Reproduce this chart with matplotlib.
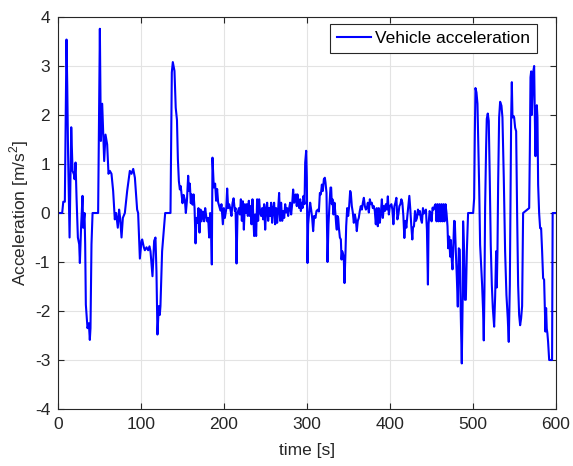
import matplotlib
matplotlib.use("Agg")
import matplotlib.pyplot as plt
import numpy as np

# acceleration trace, split in three phases
# start: launch / stop cycles (0-145 s)
t_start = [0, 5.2, 6.5, 8.4, 10.4, 11.3, 12.3, 14.1, 16.1, 17.7, 19.3, 20.1, 21.3, 22.5,
           24.1, 25.7, 26.5, 28.1, 29.7, 30.5, 32.1, 32.9, 33.7, 35.7, 37.3, 38.5, 39.3,
           40.5, 41.8, 48.5, 50.6, 51.8, 53.4, 55.8, 57.4, 59.4, 61, 62.6, 64.6, 66.6,
           68.6, 70.2, 72.2, 73.8, 75, 76.7, 78.3, 80.7, 83.5, 86.7, 88.7, 90.8, 92.8,
           95.5, 96.7, 98.8, 100.8, 101.6, 103.6, 104.8, 106.8, 108.8, 110.4, 111.6, 114,
           116, 117.6, 118.8, 120, 121.6, 122.8, 123.6, 125.6, 126.9, 129.3, 135.7, 137.3,
           138.5, 140.5, 142, 143.5, 144.6]
a_start = [0, 0, 0.23, 0.23, 3.54, 2.6, 1.2, -0.5, 1.75, 0.86, 0.79, 0.69, 1.03, 0.31,
           -0.5, -0.64, -1.02, -0.23, 0.35, -0.3, 0, -0.64, -1.87, -2.35, -2.25, -2.59, -2.35,
           -0.64, 0, 0, 3.76, 1.47, 2.23, 1.06, 1.6, 1.4, 0.8, 0.86, 0.8, 0.45,
           -0.13, 0, -0.3, 0.07, -0.1, -0.5, -0.1, 0, 0.45, 0.86, 0.8, 0.9, 0.72,
           0.07, 0, -0.93, -0.57, -0.54, -0.7, -0.76, -0.7, -0.76, -0.68, -0.78, -1.29,
           -0.57, -0.5, -1.2, -2.48, -1.9, -2.08, -1.9, -0.78, -0.5, 0, 0, 2.87,
           3.08, 2.9, 2.15, 1.9, 1.1]

# middle: cruising with noise (145-478 s)
t_mid = [145.8, 147, 148, 150.2, 151.5, 153, 154.2, 155.5, 157, 158, 159, 160.2, 161, 162.3,
         163.5, 164.7, 165.9, 167, 168.2, 169.4, 170.7, 171.9, 173.1, 174.7, 176.3, 177.5,
         178.7, 179.9, 181.1, 182.3, 183.5, 184.3, 185.5, 186.3, 187.9, 189.5, 190.7, 191.9,
         193.1, 194.3, 195.9, 197.1, 198.8, 200, 201.2, 202.8, 204, 205.2, 206.4, 207.6,
         209.2, 210.4, 211.7, 213.3, 214.1, 215.3, 216.5, 218.1, 219.3, 220.5, 221.7, 222.9,
         224.1, 225.3, 226.5, 227.7, 228.9, 230.1, 231.3, 232.5, 233.3, 234.5, 235.3, 236.5,
         237.7, 238.9, 240.1, 241.3, 242.5, 243.7, 244.9, 246.1, 247.3, 248.5, 249.8, 251,
         252.2, 253.4, 254.6, 255.8, 257, 258.2, 259.4, 260.6, 261.8, 263, 264.2, 265.4,
         266.6, 267.8, 269, 270.3, 271.5, 272.7, 273.9, 275.1, 276.3, 277.5, 278.7, 279.9,
         281.1, 282.3, 283.5, 284.7, 285.5, 286.7, 287.9, 288.7, 289.5, 290.8, 292, 292.8,
         293.6, 294.8, 296, 297.2, 298, 299.2, 300, 300.8, 301.6, 302.8, 304, 305.2, 306.4,
         307.6, 308.8, 310.4, 311.6, 313.3, 314.5, 315.7, 316.9, 318.1, 319.3, 320.5, 321.7,
         322.5, 323.7, 324.9, 326.1, 327.3, 328.5, 329.3, 330.1, 330.9, 332.1, 333.3, 334.5,
         335.3, 336.1, 336.9, 337.8, 338.6, 339.8, 341, 341.8, 342.6, 343.8, 344.6, 345.4,
         346.6, 347.4, 348.6, 349.8, 351, 352.2, 353, 354.2, 355.4, 356.6, 357.8, 359,
         360.2, 361.4, 362.6, 363.8, 365, 366.3, 367.5, 368.7, 369.9, 371.1, 372.3, 373.5,
         374.7, 375.9, 377.1, 378.3, 379.5, 380.7, 381.9, 383.1, 384.3, 385.5, 386.7, 387.9,
         389.2, 390.4, 391.6, 392.8, 394, 395.2, 396.4, 397.6, 398.8, 400, 401.9, 403.1,
         404.3, 405.5, 406.7, 407.9, 409.1, 410.3, 411.5, 412.7, 413.9, 415.1, 416.3, 417.5,
         418.7, 419.9, 421.1, 422.3, 423.5, 424.7, 425.9, 427.1, 427.9, 429.1, 430.3, 431.5,
         432.7, 433.9, 435.1, 436.3, 437.5, 438.7, 439.9, 441.1, 442.3, 443.5, 444.7, 445.9,
         446.7, 447.9, 449.1, 450.3, 451.5, 452.7, 453.9, 455.1, 456.3, 457.5, 458.7, 459.9,
         461.1, 462.3, 463.5, 464.7, 465.9, 467.1, 468.3, 469.5, 470.3, 471.5, 472.7, 473.5,
         474.7, 475.5, 476.3, 477.5]
a_mid = [0.65, 0.48, 0.55, 0.2, 0.37, 0.27, 0, 0.25, 0.76, 0.45, 0.6, 0.2, 0.38, 0.17,
         0.38, 0.1, -0.62, -0.1, -0.2, 0.1, -0.4, 0.07, -0.17, 0.03, -0.17, 0.1,
         -0.06, -0.17, -0.1, -0.5, 0, -0.13, -1.05, 1.13, 0.52, 0.6, 0.25, 0.49,
         0.22, 0.15, 0.05, 0.18, -0.23, 0.1, -0.1, 0.07, 0.5, 0.1, 0.18, 0.1,
         -0.06, 0.2, 0.3, 0.04, 0.1, -1.03, 0, 0.1, -0.03, 0.28, -0.16, 0.24,
         -0.34, 0.18, 0, 0.18, -0.06, 0.25, -0.06, 0.14, -0.23, 0.28, 0.01, -0.47,
         -0.03, -0.47, 0.28, -0.16, 0.28, 0.01, -0.06, 0.1, -0.13, 0.18, -0.34, 0.1,
         0.21, -0.16, 0.1, -0.06, 0.21, -0.2, 0.1, 0.21, -0.23, 0.1, -0.2, 0.07,
         0.41, -0.16, 0.21, -0.16, 0.04, -0.1, 0.18, 0.01, 0.1, -0.06, 0.1, 0.21,
         -0.03, 0.18, 0.48, 0.21, 0.31, 0.38, 0.14, 0.38, 0.28, 0.1, 0.28, 0.04,
         0.21, 0.1, 0.35, 0.18, 1.03, 1.27, 0.72, -1.02, -0.23, 0.01, 0.21, 0.07, -0.1,
         -0.37, -0.06, -0.1, 0.04, 0.07, 0.03, 0.41, 0.38, 0.58, 0.45, 0.69, 0.72,
         0.62, 0.41, -1.0, -0.23, 0.18, 0.52, 0.52, 0.18, 0.28, -0.03, 0.21, -0.03,
         -0.23, -0.34, -0.06, -0.1, -0.3, -0.5, -0.54, -0.95, -0.78, -0.85, -0.98, -1.43,
         -0.78, -0.27, 0.1, -0.06, 0.14, 0.45, 0.41, 0.14, 0.01, -0.2, -0.03, -0.13,
         -0.37, -0.16, -0.1, 0.04, 0.14, 0.07, 0.21, 0.31, 0.14, 0.07, 0.1, 0.21,
         0.01, 0.28, 0.18, 0.21, 0.1, 0.14, 0.04, -0.23, 0.1, -0.27, 0.1, -0.2,
         0, 0.28, -0.1, 0.14, 0.04, 0.18, 0.07, 0.34, -0.03, 0.14, 0.18, 0.07,
         -0.23, 0.14, 0.21, 0.31, -0.13, -0.03, 0.14, 0.18, 0.28, 0.21, -0.06, -0.51,
         -0.16, -0.3, -0.06, 0.14, 0.35, 0.07, -0.27, -0.54, -0.3, -0.27, 0.04, -0.16,
         -0.1, 0.07, -0.03, 0.04, -0.13, -0.2, 0.1, -0.01, 0.03, 0.07, -0.34, -1.46,
         -0.23, 0.04, 0, -0.17, 0.11, 0.07, 0.14, 0.18, -0.17, 0.18, -0.17, 0.18,
         -0.17, 0.18, -0.17, 0.18, -0.17, 0.18, 0, -0.27, -0.72, -0.48, -0.89, -0.55,
         -0.98, -1.15, -0.78, -0.16]

# end: aggressive stop-and-go (478-600 s)
t_end = [478.3, 479.5, 480.7, 481.9, 483.1, 484.3, 485.5, 486.7, 487.9, 488.3, 489.5, 490.4,
         491.6, 492.8, 494.3, 500.4, 501.6, 502.4, 503.2, 504.4, 505.6, 506.4, 507.6, 508.8,
         510, 511.2, 512.4, 513.2, 514, 514.8, 516, 516.8, 518, 519.2, 520.4, 521.6,
         522.9, 524.1, 525.7, 526.9, 528.1, 528.9, 529.7, 530.5, 531.7, 532.9, 534.5, 535.7,
         537.3, 538.9, 540.5, 542.1, 543.3, 544.6, 545.4, 546.2, 547, 547.8, 549, 549.8,
         551, 552.2, 553.4, 554.6, 555.8, 557, 558.2, 559.4, 560.6, 567.9, 568.7, 569.5,
         570.3, 571.1, 571.9, 572.7, 573.9, 574.7, 575.5, 576.3, 577.1, 577.9, 578.7, 579.9,
         581.1, 582.3, 583.5, 584.7, 585.9, 586.7, 587.5, 588.3, 589.1, 589.9, 590.7, 592,
         595.5, 596.2, 600]
a_end = [-0.17, -0.78, -1.3, -1.91, -0.72, -0.75, -2.1, -3.07, -1.6, -0.17, -0.78, -1.77,
         -1.77, -0.78, 0, 0, 0.3, 1.6, 2.55, 2.46, 2.23, 1.6, 0.58, -0.65,
         -1.06, -1.47, -2.01, -2.6, -1.6, 0.1, 1.33, 1.92, 2.03, 1.88, 0.72, -0.65,
         -1.47, -1.94, -2.32, -1.7, -0.78, -1.52, -0.78, 0.58, 1.95, 2.27, 2.19, 1.95,
         0.72, -0.78, -1.67, -2.15, -2.63, -1.47, 0.24, 1.95, 2.67, 1.95, 1.98, 1.95,
         1.74, 1.67, -0.03, -1.47, -2.08, -2.29, -2.15, -1.9, 0, 0.1, 1.27, 2.77,
         2.89, 2.0, 2.41, 2.87, 3.0, 1.98, 1.16, 1.95, 2.2, 1.95, 0.58, 0,
         -0.31, -0.31, -0.78, -1.33, -1.36, -1.91, -2.42, -1.94, -2.36, -2.46, -2.63, -3.0,
         -3.0, 0, 0]

time = np.array(t_start + t_mid + t_end)
accel = np.array(a_start + a_mid + a_end)

plt.rcParams["font.family"] = ["Liberation Sans", "DejaVu Sans"]
plt.rcParams["mathtext.fontset"] = "custom"
plt.rcParams["mathtext.rm"] = "Liberation Sans"
plt.rcParams["axes.unicode_minus"] = False

dark = "#262626"
fs = 12.5
fig = plt.figure(figsize=(5.73, 4.66), dpi=100)
ax = fig.add_axes([0.101, 0.1223, 0.869, 0.8412])

ax.plot(time, accel, color="#0000ff", linewidth=1.5, label="Vehicle acceleration")

ax.set_xlim(0, 600)
ax.set_ylim(-4, 4)
ax.set_xticks(np.arange(0, 601, 100))
ax.set_yticks(np.arange(-4, 5, 1))
ax.grid(True, color="#e3e3e3", linewidth=0.8)
ax.set_axisbelow(True)
ax.tick_params(direction="in", length=4, width=0.8, top=True, right=True, pad=5.5,
               colors=dark, labelsize=fs, labelcolor=dark)
for side in ax.spines.values():
    side.set_color(dark)
    side.set_linewidth(0.8)

ax.set_xlabel("time [s]", fontsize=fs, color=dark, labelpad=8)
ax.set_ylabel("Acceleration [m/s$^2$]", fontsize=fs, color=dark, labelpad=3)

leg = ax.legend(loc="upper right", bbox_to_anchor=(0.962, 0.982), borderaxespad=0,
                fancybox=False, framealpha=1, edgecolor=dark, fontsize=fs,
                handlelength=1.95, handletextpad=0.25)
leg.get_frame().set_linewidth(0.8)

fig.savefig("out.png", dpi=100)
